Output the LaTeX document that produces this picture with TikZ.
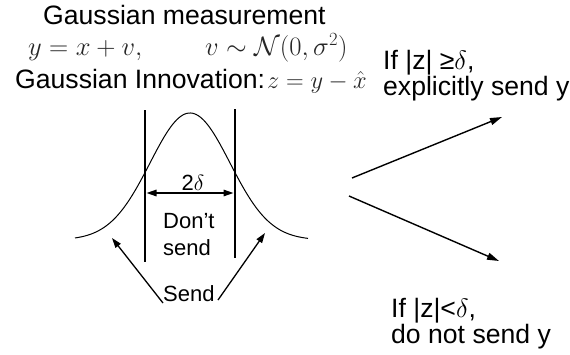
\RequirePackage{fix-cm}
\documentclass[tikz,border=0pt]{standalone}
\usepackage[no-math]{fontspec}
\setmainfont{Liberation Sans}
\usetikzlibrary{arrows.meta}
\tikzset{
  big/.style={inner sep=0pt, font=\fontsize{26.6}{30}\selectfont},
  small/.style={inner sep=0pt, font=\fontsize{22}{26}\selectfont},
  mathtxt/.style={inner sep=0pt, font=\fontsize{26.6}{30}\selectfont, text=black!85},
  mathsm/.style={inner sep=0pt, font=\fontsize{24.5}{28}\selectfont, text=black!85},
  bar/.style={line width=1.5pt},
  arr/.style={line width=1.4pt, -{Triangle[length=12pt,width=7pt]}},
  sarr/.style={line width=1.3pt, -{Triangle[length=10pt,width=6.5pt]}},
  darr/.style={line width=1.4pt, {Triangle[length=10pt,width=6.5pt]}-{Triangle[length=10pt,width=6.5pt]}},
}
\begin{document}
\begin{tikzpicture}[x=1pt,y=-1pt]
\useasboundingbox (0,0) rectangle (570,354);
% header texts
\node[big, anchor=base west] (title) at (43,24) {Gaussian measurement};
\node[mathtxt, anchor=base west] (meas) at (28,55) {$y = x + v,$};
\node[mathtxt, anchor=base west] (noise) at (205,55) {$v \sim \mathcal{N}(0,\sigma^2)$};
\node[big, anchor=base west] (innov) at (15,88) {Gaussian Innovation:};
\node[mathsm, anchor=base west] (innoveq) at (267,88) {$z = y - \hat{x}$};
% gaussian curve
\draw[line width=1pt] plot[domain=75:308, samples=120, smooth] (\x, {240 - 127*exp(-((\x-190)^2)/3200)});
% threshold lines
\coordinate (lt) at (145,110); \coordinate (lb) at (145,262);
\coordinate (rt) at (235,109); \coordinate (rb) at (235,258);
\draw[bar] (lt) -- (lb);
\draw[bar] (rt) -- (rb);
\coordinate (dl) at (146.5,193); \coordinate (dr) at (233.5,193);
\draw[darr] (dl) -- (dr);
\node[small, anchor=base] (twod) at (193,190) {2$\delta$};
\node[small, anchor=base west] (dont) at (163,228) {Don’t};
\node[small, anchor=base west] (dsend) at (163,255) {send};
% send label and arrows
\node[small, anchor=base west] (send) at (163,301) {Send};
\coordinate (sl) at (163,303); \coordinate (slt) at (112,238);
\coordinate (sr) at (218,300); \coordinate (srt) at (265,233);
\draw[sarr] (sl) -- (slt);
\draw[sarr] (sr) -- (srt);
% decision arrows
\coordinate (ua) at (352,178); \coordinate (ub) at (502,117);
\coordinate (la) at (349,196); \coordinate (lb2) at (499,261);
\draw[arr] (ua) -- (ub);
\draw[arr] (la) -- (lb2);
% right texts
\node[big, anchor=base west] (if1) at (383,69) {If |z| ≥$\delta$,};
\node[big, anchor=base west] (exp1) at (383,95) {explicitly send y};
\node[big, anchor=base west] (if2) at (391,317) {If |z|<$\delta$,};
\node[big, anchor=base west] (exp2) at (391,343) {do not send y};
\end{tikzpicture}
\end{document}
